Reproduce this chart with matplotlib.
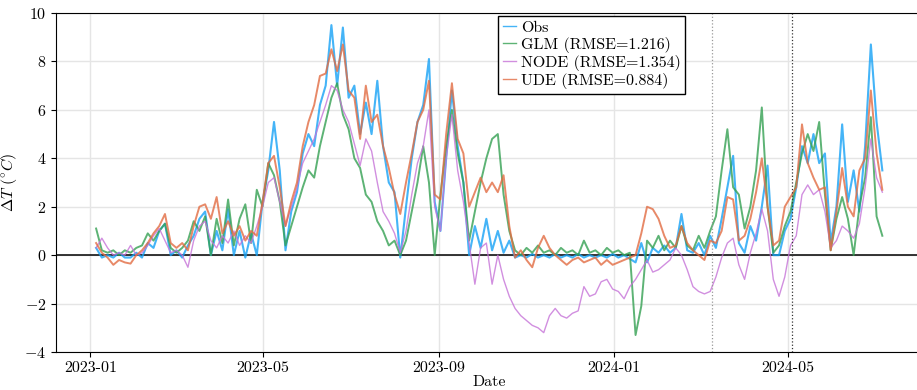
"""Observed vs modelled temperature anomaly (Obs / GLM / NODE / UDE)."""
import matplotlib

matplotlib.use("Agg")
import matplotlib.dates as mdates
import matplotlib.pyplot as plt
import pandas as pd

plt.rcParams["font.family"] = "serif"
plt.rcParams["font.serif"] = ["cmr10", "DejaVu Serif"]
plt.rcParams["mathtext.fontset"] = "cm"
plt.rcParams["axes.formatter.use_mathtext"] = True

# values, one every 4 days from 2023-01-05
dates = pd.date_range("2023-01-05", periods=138, freq="4D")

obs = [
    0.3, -0.1, 0.0, -0.1, 0.1, -0.1, -0.1, 0.1, -0.1, 0.5,
    0.3, 1.0, 1.3, 0.0, 0.2, -0.1, 0.4, 0.8, 1.5, 1.8,
    0.0, 1.0, 0.2, 1.9, 0.0, 1.0, -0.1, 0.9, 0.0, 2.2,
    3.5, 5.5, 3.5, 0.2, 1.8, 2.6, 4.2, 5.0, 4.5, 6.2,
    7.0, 9.5, 7.0, 9.4, 6.5, 7.0, 5.0, 6.3, 5.0, 7.2,
    4.5, 3.0, 2.6, -0.1, 2.0, 4.0, 5.5, 6.2, 8.1, 2.2,
    1.0, 4.0, 6.8, 4.5, 3.0, 0.0, 1.2, 0.3, 1.5, 0.2,
    1.0, 0.1, 0.6, -0.1, 0.0, -0.1, 0.05, -0.1, 0.0, -0.1,
    0.05, -0.1, 0.0, -0.1, 0.05, -0.1, 0.0, -0.1, 0.0, -0.1,
    0.05, -0.1, 0.0, -0.15, -0.3, 0.5, -0.3, 0.3, 0.1, 0.4,
    0.1, 0.3, 1.7, 0.2, 0.1, 0.5, 0.0, 0.8, 0.3, 1.5,
    2.8, 4.1, 0.5, 0.1, 1.2, 0.6, 2.0, 3.7, 0.0, 0.0,
    1.0, 1.5, 2.8, 4.5, 3.8, 5.0, 3.8, 4.2, 0.5, 2.0,
    5.4, 2.2, 3.5, 1.8, 4.5, 8.7, 5.5, 3.5,
]

glm = [
    1.1, 0.2, 0.1, 0.2, 0.0, 0.2, 0.1, 0.3, 0.4, 0.9,
    0.6, 1.0, 1.3, 0.3, 0.1, 0.3, 0.6, 1.4, 1.0, 1.6,
    0.0, 1.5, 0.5, 2.3, 0.4, 1.5, 2.1, 0.5, 2.7, 2.0,
    3.8, 3.3, 2.2, 0.4, 1.2, 2.0, 2.8, 3.5, 3.2, 4.5,
    5.5, 6.5, 7.1, 5.8, 5.2, 4.0, 3.6, 2.5, 2.2, 1.4,
    1.0, 0.4, 0.6, 0.0, 0.6, 1.8, 3.0, 4.5, 3.0, 0.0,
    2.5, 4.5, 6.0, 4.2, 3.0, 0.6, 1.8, 3.0, 4.0, 4.8,
    5.0, 2.5, 1.0, 0.2, 0.0, 0.3, 0.1, 0.4, 0.1, 0.2,
    0.0, 0.3, 0.1, 0.2, 0.0, 0.6, 0.1, 0.2, 0.0, 0.3,
    0.1, 0.2, 0.0, 0.1, -3.3, -2.1, 0.6, 0.3, 0.8, 0.2,
    0.6, 0.3, 1.2, 0.4, 0.2, 0.8, 0.3, 1.0, 1.6, 3.5,
    5.2, 2.8, 2.5, 1.1, 2.0, 3.5, 6.1, 2.0, 0.1, 0.4,
    1.2, 1.8, 3.0, 4.2, 5.0, 4.3, 5.5, 2.5, 0.2, 1.5,
    2.4, 1.5, 0.0, 2.0, 3.2, 5.7, 1.6, 0.8,
]

node = [
    0.3, 0.7, 0.3, 0.0, 0.1, 0.0, 0.4, 0.0, 0.1, 0.4,
    0.8, 1.1, 0.6, 0.1, 0.2, 0.0, -0.5, 0.6, 1.2, 1.4,
    0.6, 0.3, 0.8, 0.5, 1.0, 0.4, 0.8, 0.5, 1.2, 2.0,
    3.0, 3.2, 2.2, 1.2, 2.0, 2.8, 3.8, 4.3, 4.8, 5.5,
    6.2, 7.0, 6.8, 6.0, 5.5, 4.6, 3.7, 4.8, 4.3, 3.0,
    1.8, 1.4, 0.9, 0.1, 1.0, 2.5, 3.8, 4.5, 6.0, 2.0,
    1.0, 4.0, 5.8, 3.5, 2.2, 0.5, -1.2, 0.3, 0.5, -1.2,
    0.0, -1.0, -1.7, -2.2, -2.5, -2.7, -2.9, -3.0, -3.2, -2.5,
    -2.2, -2.5, -2.6, -2.4, -2.3, -1.3, -1.7, -1.6, -1.1, -1.0,
    -1.4, -1.5, -1.8, -1.3, -1.0, -0.6, -0.2, -0.7, -0.6, -0.4,
    -0.2, 0.3, 0.0, -0.6, -1.3, -1.5, -1.6, -1.5, -0.9, -0.1,
    0.5, 0.7, -0.4, -1.0, 0.1, 0.9, 1.9, 1.0, -1.0, -1.7,
    -0.9, 0.4, 0.8, 2.5, 2.9, 2.5, 2.7, 1.8, 0.3, 0.6,
    1.2, 1.0, 0.7, 1.3, 2.8, 4.8, 3.2, 2.6,
]

ude = [
    0.5, 0.1, -0.1, -0.4, -0.2, -0.3, -0.35, 0.0, 0.2, 0.5,
    0.9, 1.2, 1.7, 0.5, 0.3, 0.5, 0.2, 1.2, 2.0, 2.1,
    1.5, 2.4, 0.9, 1.4, 0.8, 1.2, 0.6, 1.0, 0.8, 2.2,
    3.8, 4.1, 2.8, 1.2, 2.2, 3.0, 4.5, 5.5, 6.2, 7.4,
    7.5, 8.5, 7.6, 8.7, 6.8, 6.5, 4.8, 7.0, 5.5, 5.8,
    4.5, 3.6, 2.5, 1.7, 3.0, 4.2, 5.5, 6.0, 7.2, 2.5,
    2.3, 5.0, 7.1, 4.8, 4.2, 2.0, 2.6, 3.2, 2.6, 3.0,
    2.6, 3.3, 1.2, -0.1, 0.2, -0.2, -0.5, 0.3, 0.8, 0.3,
    0.0, -0.2, -0.4, -0.2, -0.1, -0.3, -0.2, -0.1, -0.4, -0.2,
    -0.4, -0.3, -0.2, -0.1, 0.0, 0.9, 2.0, 1.9, 1.5, 0.8,
    0.3, 0.4, 1.2, 0.5, 0.2, 0.0, -0.2, 0.6, 0.5, 1.0,
    2.4, 2.3, 0.6, 0.8, 1.5, 2.6, 4.0, 2.0, 0.4, 0.6,
    2.0, 2.4, 2.8, 5.4, 3.8, 3.2, 2.7, 2.8, 0.2, 1.8,
    3.6, 2.0, 1.6, 3.5, 4.0, 6.8, 4.2, 2.7,
]

series = [
    ("Obs", obs, "#16a2f6", 1.5),
    ("GLM (RMSE=1.216)", glm, "#34a052", 1.4),
    ("NODE (RMSE=1.354)", node, "#c673d8", 1.0),
    ("UDE (RMSE=0.884)", ude, "#e26c42", 1.4),
]
split_dates = [pd.Timestamp("2024-03-09"), pd.Timestamp("2024-05-04")]
split_colors = ["#999999", "#333333"]

fig = plt.figure(figsize=(9.17, 3.9), dpi=100)
ax = fig.add_axes([0.061, 0.0974, 0.945, 0.8693])

for label, vals, col, lw in series:
    ax.plot(dates, vals, color=col, lw=lw, alpha=0.8, label=label)

ax.axhline(0, color="black", lw=1.1, zorder=1)
for d, c in zip(split_dates, split_colors):
    ax.axvline(d, color=c, ls=":", lw=0.9)

ax.set_ylim(-4, 10)
ax.set_yticks(range(-4, 11, 2))
ax.set_xlim(pd.Timestamp("2022-12-08"), pd.Timestamp("2024-08-03"))
ax.xaxis.set_major_locator(mdates.MonthLocator(bymonth=[1, 5, 9]))
ax.xaxis.set_major_formatter(mdates.DateFormatter("%Y-%m"))
ax.tick_params(labelsize=11.5, length=3.5, width=0.8)
ax.grid(True, color="#e5e5e5", lw=1.0)
ax.set_axisbelow(True)
ax.spines["right"].set_visible(False)
ax.set_xlabel("Date", fontsize=11.5, labelpad=0)
ax.set_ylabel(r"$\Delta T$ $(^{\circ}C)$", fontsize=11.5)

leg = ax.legend(loc="upper left", bbox_to_anchor=(0.5105, 0.991), fontsize=11.5,
                frameon=True, fancybox=False, edgecolor="black", framealpha=1,
                handlelength=0.8, handletextpad=0.3, labelspacing=0.12,
                borderpad=0.3, borderaxespad=0)
for line in leg.get_lines():
    line.set_linewidth(1.0)

fig.savefig("out.png", dpi=100)
